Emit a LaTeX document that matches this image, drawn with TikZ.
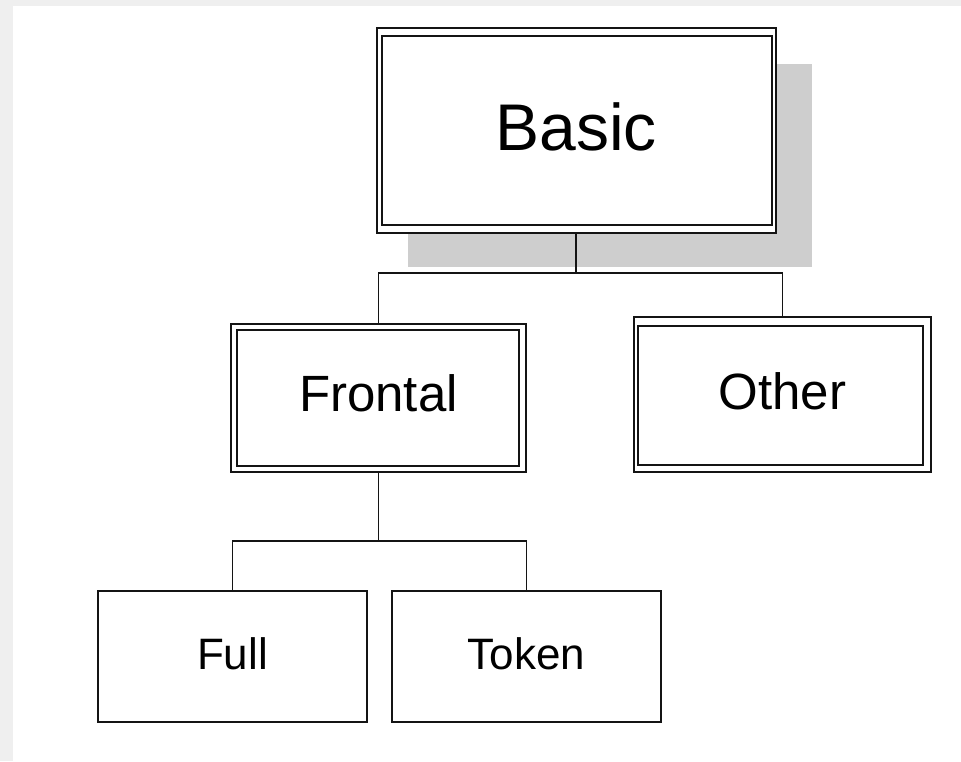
\documentclass[tikz,border=0pt]{standalone}
\usepackage{fontspec}
\setmainfont{Liberation Sans}
\usetikzlibrary{calc}
\definecolor{bgframe}{HTML}{EFEFEF}
\definecolor{shadowgray}{HTML}{CECECE}
\definecolor{ink}{HTML}{141414}
\tikzset{
  boxline/.style={draw=ink, line width=2pt},
  treebox/.style={boxline, fill=white, inner sep=0pt, rectangle, align=center},
  conn/.style={draw=ink, line width=1.8pt},
}
\begin{document}
\begin{tikzpicture}[x=1pt,y=-1pt]
  \useasboundingbox (0,0) rectangle (961,761);
  \fill[bgframe] (0,0) rectangle (961,761);
  \fill[white] (13,6) rectangle (961,761);

  % shadow of Basic
  \fill[shadowgray] (408,64) rectangle (812,267);

  % nodes
  \node[treebox, minimum width=399pt, minimum height=205pt,
        font=\fontsize{66pt}{70pt}\selectfont, text height=47pt, text depth=7pt]
        (basic) at (576,130.5) {Basic};
  \draw[boxline] ($(basic.north west)+(6,9)$) rectangle ($(basic.south east)+(-5,-9)$);

  \node[treebox, minimum width=295pt, minimum height=148pt,
        font=\fontsize{51pt}{55pt}\selectfont, text height=36.5pt, text depth=10pt]
        (frontal) at (378.5,398) {Frontal};
  \draw[boxline] ($(frontal.north west)+(7,7)$) rectangle ($(frontal.south east)+(-8,-7)$);

  \node[treebox, minimum width=297pt, minimum height=155pt,
        font=\fontsize{51pt}{55pt}\selectfont, text height=36.5pt, text depth=7pt]
        (other) at (782.5,394.5) {Other};
  \draw[boxline] ($(other.north west)+(5,10)$) rectangle ($(other.south east)+(-9,-8)$);

  \node[treebox, minimum width=269pt, minimum height=131pt,
        font=\fontsize{44pt}{48pt}\selectfont, text height=31.5pt, text depth=5pt]
        (full) at (232.5,656.5) {Full};

  \node[treebox, minimum width=269pt, minimum height=131pt,
        font=\fontsize{44pt}{48pt}\selectfont, text height=31.5pt, text depth=5pt]
        (token) at (526.5,656.5) {Token};

  % connectors
  \coordinate (j1) at ($(basic.south)+(0,39)$);
  \coordinate (j2) at ($(frontal.south)+(0,68)$);
  \draw[conn] (basic.south) -- (j1);
  \draw[conn] (j1) -| (frontal.north);
  \draw[conn] (j1) -| (other.north);
  \draw[conn] (frontal.south) -- (j2);
  \draw[conn] (j2) -| (full.north);
  \draw[conn] (j2) -| (token.north);
\end{tikzpicture}
\end{document}
